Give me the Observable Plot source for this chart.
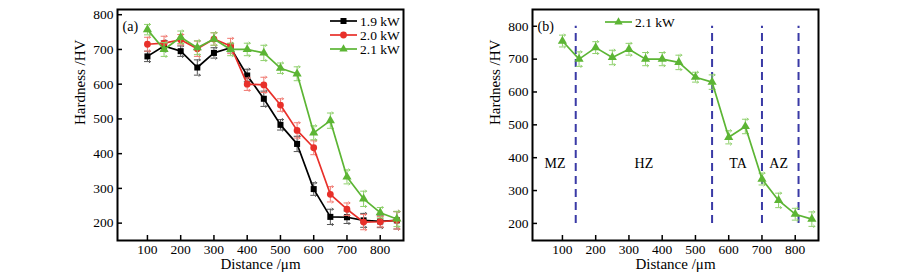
<!DOCTYPE html>
<html>
<head>
<meta charset="utf-8">
<script src="https://cdn.jsdelivr.net/npm/d3@7"></script>
<script src="https://cdn.jsdelivr.net/npm/@observablehq/plot@0.6"></script>
<style>
  html, body { margin: 0; padding: 0; background: #fff; }
  #wrap { position: relative; width: 900px; height: 280px; font-family: "Liberation Serif", serif; }
  #wrap svg { position: absolute; top: 0; font-family: "Liberation Serif", serif; }
</style>
</head>
<body>
<div id="wrap"></div>
<script>
// ---- data ----
const distances = [100,150,200,250,300,350,400,450,500,550,600,650,700,750,800,850];
const seriesNames = ["1.9 kW", "2.0 kW", "2.1 kW"];
const hv19 = [680,710,695,648,690,705,625,558,483,428,298,218,217,208,205,208];
const err19 = [15,15,15,22,15,12,18,22,15,22,18,22,18,20,18,25];
const hv20 = [715,718,728,702,730,710,600,598,540,467,417,283,240,203,204,208];
const err20 = [20,20,15,22,18,22,18,22,18,22,20,22,18,22,15,25];
const hv21 = [757,700,735,705,730,700,700,690,646,630,460,495,333,270,230,212];
const err21 = [15,20,18,20,18,18,18,22,15,20,20,22,20,22,15,22];
const hvB = [755,700,735,705,730,700,700,690,645,630,462,495,335,270,228,213];
const errB = [18,22,18,22,18,20,20,22,15,22,20,22,18,22,18,22];
const zoneBounds = [140, 550, 700, 810];
const zoneNames = ["MZ", "HZ", "TA", "AZ"];
const zoneLabelX = [78, 345, 628, 750];
const zoneLabelY = 383;
const xTicks = [100,200,300,400,500,600,700,800];
const yTicks = [200,300,400,500,600,700,800];

const colors = ["#000000", "#e8302a", "#5cb534"];
const errColors = ["#555555", "#f07a72", "#8fd06c"];
const symbols = ["square", "circle", "triangle"];

const FONT = "Liberation Serif";

function rows(vals, errs, name) {
  return distances.map((d, i) => ({x: d, y: vals[i], e: errs[i], s: name}));
}
const dataA = [rows(hv19, err19, seriesNames[0]), rows(hv20, err20, seriesNames[1]), rows(hv21, err21, seriesNames[2])];
const dataB = rows(hvB, errB, seriesNames[2]);

function seriesMarks(data, k) {
  return [
    Plot.ruleX(data, {x: "x", y1: d => d.y - d.e, y2: d => d.y + d.e, stroke: errColors[k], strokeWidth: 1}),
    Plot.vector(data, {x: "x", y: d => d.y - d.e, length: 6, rotate: 90, anchor: "middle", stroke: errColors[k], strokeWidth: 1}),
    Plot.vector(data, {x: "x", y: d => d.y + d.e, length: 6, rotate: 90, anchor: "middle", stroke: errColors[k], strokeWidth: 1}),
    Plot.line(data, {x: "x", y: "y", stroke: colors[k], strokeWidth: 1.7}),
    Plot.dot(data, {x: "x", y: "y", symbol: () => symbols[k], fill: colors[k], r: 3.4, stroke: "none"})
  ];
}

function axes(label) {
  return [
    Plot.axisX(xTicks, {tickSize: -5, tickPadding: 9, fontSize: 13.5, fontFamily: FONT, stroke: "#000", strokeWidth: 1.5, label: null}),
    Plot.axisY(yTicks, {tickSize: -5, tickPadding: 9, fontSize: 13.5, fontFamily: FONT, stroke: "#000", strokeWidth: 1.5, label: null}),
    Plot.frame({stroke: "#000", strokeWidth: 2}),
    Plot.text(["Distance /\u03bcm"], {frameAnchor: "bottom", dy: 28, fontSize: 15, fontFamily: FONT, fill: "#000"}),
    Plot.text(["Hardness /HV"], {frameAnchor: "left", dx: -37, rotate: -90, fontSize: 15, fontFamily: FONT, fill: "#000"}),
    Plot.text([label], {frameAnchor: "top-left", dx: 5, dy: 12, fontSize: 14, fontFamily: FONT, fill: "#000", textAnchor: "start"})
  ];
}

const plotA = Plot.plot({
  width: 450, height: 280,
  marginLeft: 117, marginRight: 47, marginTop: 9, marginBottom: 40,
  style: {fontFamily: FONT, background: "transparent"},
  x: {domain: [10, 870], axis: null},
  y: {domain: [150, 815], axis: null},
  marks: [
    ...seriesMarks(dataA[0], 0),
    ...seriesMarks(dataA[1], 1),
    ...seriesMarks(dataA[2], 2),
    ...axes("(a)")
  ]
});

const plotB = Plot.plot({
  width: 450, height: 280,
  marginLeft: 82, marginRight: 82, marginTop: 9, marginBottom: 40,
  style: {fontFamily: FONT, background: "transparent"},
  x: {domain: [10, 870], axis: null},
  y: {domain: [148, 851], axis: null},
  marks: [
    Plot.ruleX(zoneBounds, {x: d => d, y1: 200, y2: 800, stroke: "#3a3aa6", strokeWidth: 2, strokeDasharray: "8,5"}),
    Plot.text(zoneNames, {x: (d, i) => zoneLabelX[i], y: () => zoneLabelY, text: d => d, fontSize: 14, fontFamily: FONT, fill: "#000"}),
    ...seriesMarks(dataB, 2),
    ...axes("(b)")
  ]
});

const wrap = document.getElementById("wrap");
plotA.style.left = "0px";
plotB.style.left = "450px";
wrap.appendChild(plotA);
wrap.appendChild(plotB);

// legends
function legend(svg, items, x0, ys) {
  const g = d3.select(svg).append("g");
  items.forEach((k, i) => {
    const y = ys[i];
    g.append("line").attr("x1", x0).attr("x2", x0 + 27).attr("y1", y).attr("y2", y)
      .attr("stroke", colors[k]).attr("stroke-width", 1.7);
    const sym = d3.symbol().type(k === 0 ? d3.symbolSquare : k === 1 ? d3.symbolCircle : d3.symbolTriangle).size(k === 2 ? 30 : 36);
    g.append("path").attr("d", sym()).attr("transform", `translate(${x0 + 13.5},${y})`).attr("fill", colors[k]);
    g.append("text").attr("x", x0 + 30).attr("y", y).attr("dy", "0.35em")
      .attr("text-anchor", "start")
      .attr("font-size", 13.5).attr("font-family", FONT).attr("fill", "#000").text(seriesNames[k]);
  });
}
legend(plotA, [0, 1, 2], 330, [21, 35, 49]);
legend(plotB, [2], 155, [22]);
</script>
</body>
</html>
